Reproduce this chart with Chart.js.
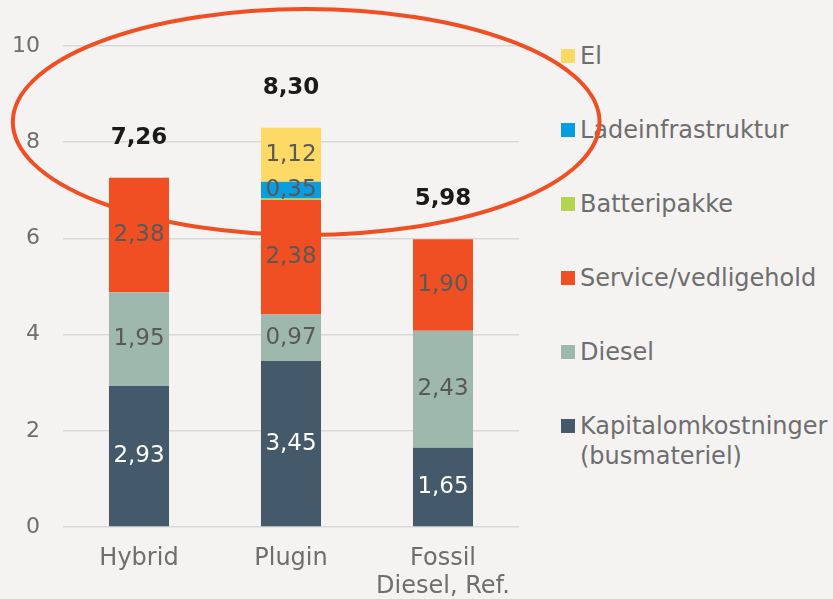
<!DOCTYPE html>
<html>
<head>
<meta charset="utf-8">
<script src="https://cdn.jsdelivr.net/npm/chart.js@4.4.0/dist/chart.umd.min.js"></script>
<style>
	body { margin: 0; background: #f4f3f1; font-family: 'DejaVu Sans', Verdana, sans-serif; }
	#wrap { position: relative; width: 833px; height: 599px; }
	#legend { position: absolute; left: 561px; top: 41px; z-index: 0; }
	#wrap canvas { position: absolute; left: 0; top: 0; z-index: 1; }
	.item { position: relative; padding-left: 19px; font-size: 24px; line-height: 30px; color: #6e6e6e; margin-bottom: 44px; white-space: nowrap; }
	.item span.box { position: absolute; left: 0; top: 8px; width: 14px; height: 14px; }
</style>
</head>
<body>
<div id="wrap">
	<div id="legend"></div>
	<canvas id="myChart"></canvas>
</div>
<script>
// categories
const categories = ['Hybrid', 'Plugin', ['Fossil', 'Diesel, Ref.']];
// series values (mio. kr)
const kapital = [2.93, 3.45, 1.65];
const diesel = [1.95, 0.97, 2.43];
const service = [2.38, 2.38, 1.90];
const batteri = [0, 0.03, 0];
const lade = [0, 0.35, 0];
const el = [0, 1.12, 0];
const yTicks = [0, 2, 4, 6, 8, 10];

const series = [
	{ label: 'Kapitalomkostninger\n(busmateriel)', data: kapital, color: '#44596a', txt: '#ffffff' },
	{ label: 'Diesel', data: diesel, color: '#9fb8ae', txt: '#595959' },
	{ label: 'Service/vedligehold', data: service, color: '#f04f23', txt: '#595959' },
	{ label: 'Batteripakke', data: batteri, color: '#b5d452', txt: '#595959' },
	{ label: 'Ladeinfrastruktur', data: lade, color: '#0a9ee0', txt: '#595959' },
	{ label: 'El', data: el, color: '#fdd966', txt: '#595959' }
];

const fmt = (v) => v.toFixed(2).replace('.', ',');

// html legend, top item = last series
const legend = document.getElementById('legend');
series.slice().reverse().forEach((s) => {
	let div = document.createElement('div');
	div.className = 'item';
	div.innerHTML = '<span class="box" style="background:' + s.color + '"></span>' + s.label.replace('\n', '<br>');
	legend.appendChild(div);
});

// values inside segments + totals on top + the red ring
const labelsPlugin = {
	id: 'labelsPlugin',
	afterDatasetsDraw(chart) {
		const ctx = chart.ctx;
		ctx.save();
		ctx.textAlign = 'center';
		ctx.textBaseline = 'middle';
		ctx.font = '23px "DejaVu Sans"';
		chart.data.datasets.forEach((ds, i) => {
			const meta = chart.getDatasetMeta(i);
			meta.data.forEach((bar, j) => {
				const v = ds.data[j];
				if (v < 0.1) return;
				ctx.fillStyle = series[i].txt;
				ctx.fillText(fmt(v), bar.x, (bar.y + bar.base) / 2);
			});
		});
		// totals
		const ys = chart.scales.y;
		ctx.font = 'bold 23px "DejaVu Sans"';
		ctx.fillStyle = '#1a1a1a';
		categories.forEach((c, j) => {
			let total = 0;
			series.forEach((s) => total += s.data[j]);
			const x = chart.getDatasetMeta(0).data[j].x;
			ctx.fillText(fmt(total), x, ys.getPixelForValue(total) - 40);
		});
		ctx.restore();
	},
	afterDraw(chart) {
		const ctx = chart.ctx;
		const xs = chart.scales.x, ys = chart.scales.y;
		const step = xs.getPixelForValue(1) - xs.getPixelForValue(0);
		const unit = ys.getPixelForValue(0) - ys.getPixelForValue(1);
		ctx.save();
		ctx.strokeStyle = '#f04f23';
		ctx.lineWidth = 4;
		ctx.beginPath();
		ctx.ellipse(xs.getPixelForValue(1) + 0.1 * step, ys.getPixelForValue(8.42), 1.93 * step, 2.35 * unit, 0, 0, Math.PI * 2);
		ctx.stroke();
		ctx.restore();
	}
};

const canvas = document.getElementById('myChart').getContext('2d');
let myChart = new Chart(canvas, {
	type: 'bar',
	data: {
		labels: categories,
		datasets: series.map((s) => ({
			label: s.label,
			data: s.data,
			backgroundColor: s.color,
			borderWidth: 0,
			barPercentage: 0.395,
			categoryPercentage: 1
		}))
	},
	options: {
		responsive: true,
		maintainAspectRatio: false,
		animation: false,
		layout: { padding: { top: 46, right: 314, left: 0, bottom: 0 } },
		plugins: {
			legend: { display: false },
			tooltip: { enabled: false }
		},
		scales: {
			x: {
				stacked: true,
				grid: { display: false, drawTicks: false },
				border: { display: false },
				ticks: {
					color: '#6e6e6e',
					padding: 17,
					font: { family: 'DejaVu Sans', size: 24, lineHeight: 1.2 }
				},
				afterFit: (scale) => { scale.height = 72; }
			},
			y: {
				stacked: true,
				min: 0,
				max: 10,
				afterBuildTicks: (scale) => { scale.ticks = yTicks.map((v) => ({ value: v })); },
				grid: { color: '#d9d9d9', lineWidth: 1.5, drawTicks: false },
				border: { display: false },
				ticks: {
					color: '#6e6e6e',
					padding: 23,
					font: { family: 'DejaVu Sans', size: 22 }
				},
				afterFit: (scale) => { scale.width = 63; }
			}
		}
	},
	plugins: [labelsPlugin]
});
</script>
</body>
</html>
